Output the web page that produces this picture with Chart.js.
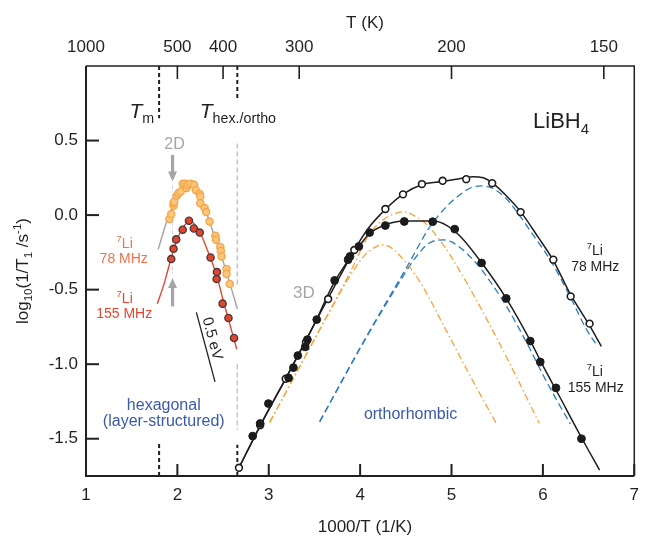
<!DOCTYPE html>
<html>
<head>
<meta charset="utf-8">
<script src="https://cdn.jsdelivr.net/npm/chart.js@4.4.1/dist/chart.umd.min.js"></script>
<style>
html, body { margin: 0; padding: 0; background: #fff; }
</style>
</head>
<body>
<canvas id="chart" width="648" height="537"></canvas>
<script>
// axes
const bottomTicks = [1, 2, 3, 4, 5, 6, 7];
const tempTicks = [1000, 500, 400, 300, 200, 150]; // T (K) on the top axis
const yTicks = [-1.5, -1.0, -0.5, 0.0, 0.5];

// hexagonal phase, 7Li 78 MHz (orange) and 155 MHz (red)
const hex78X = [1.912, 1.933, 1.958, 1.958, 1.966, 1.994, 2.012, 2.036, 2.058, 2.084, 2.101, 2.112, 2.144, 2.183, 2.202, 2.245, 2.251, 2.251, 2.298, 2.315, 2.352, 2.416, 2.423, 2.470, 2.476, 2.484, 2.538, 2.538, 2.573];
const hex78Y = [-0.027, 0.007, 0.062, 0.080, 0.091, 0.129, 0.147, 0.158, 0.210, 0.210, 0.181, 0.203, 0.210, 0.203, 0.169, 0.141, 0.125, 0.080, 0.047, 0.020, -0.043, -0.139, -0.165, -0.214, -0.241, -0.277, -0.362, -0.395, -0.462];
const hex155X = [1.933, 1.958, 1.987, 2.058, 2.127, 2.180, 2.245, 2.363, 2.433, 2.430, 2.495, 2.559, 2.620];
const hex155Y = [-0.295, -0.226, -0.163, -0.098, -0.038, -0.090, -0.117, -0.284, -0.382, -0.429, -0.594, -0.690, -0.824];
const hexFit78X = [1.79, 1.88, 1.95, 2.0, 2.05, 2.1, 2.15, 2.2, 2.25, 2.3, 2.35, 2.4, 2.45, 2.5, 2.55, 2.6, 2.656];
const hexFit78Y = [-0.23, -0.05, 0.06, 0.13, 0.18, 0.205, 0.21, 0.185, 0.13, 0.05, -0.04, -0.13, -0.22, -0.31, -0.41, -0.51, -0.63];
const hexFit155X = [1.78, 1.85, 1.9, 1.95, 2.0, 2.05, 2.1, 2.15, 2.2, 2.25, 2.3, 2.35, 2.4, 2.45, 2.5, 2.55, 2.6, 2.65];
const hexFit155Y = [-0.595, -0.47, -0.36, -0.25, -0.16, -0.095, -0.055, -0.045, -0.07, -0.12, -0.19, -0.27, -0.35, -0.45, -0.57, -0.68, -0.79, -0.90];

// orthorhombic phase, 7Li 78 MHz (open) and 155 MHz (filled)
const ortho78X = [2.674, 2.906, 3.185, 3.407, 3.650, 3.936, 4.276, 4.469, 4.676, 4.903, 5.161, 5.445, 5.756, 6.114, 6.304, 6.511];
const ortho78Y = [-1.695, -1.409, -1.098, -0.853, -0.563, -0.234, 0.041, 0.139, 0.208, 0.230, 0.241, 0.214, 0.020, -0.299, -0.545, -0.728];
const ortho155X = [2.824, 2.906, 2.996, 3.217, 3.270, 3.318, 3.399, 3.423, 3.525, 3.721, 3.868, 3.889, 3.986, 4.104, 4.276, 4.483, 4.794, 5.035, 5.329, 5.599, 5.862, 5.971, 6.143, 6.422];
const ortho155Y = [-1.482, -1.398, -1.264, -1.092, -1.023, -0.942, -0.884, -0.835, -0.701, -0.438, -0.299, -0.277, -0.210, -0.117, -0.070, -0.043, -0.044, -0.094, -0.321, -0.559, -0.845, -0.985, -1.159, -1.500];
const fit78X = [2.67, 2.9, 3.2, 3.5, 3.7, 3.85, 3.95, 4.1, 4.28, 4.47, 4.68, 4.9, 5.05, 5.23, 5.35, 5.45, 5.6, 5.76, 5.95, 6.11, 6.3, 6.51, 6.64];
const fit78Y = [-1.70, -1.42, -1.08, -0.73, -0.50, -0.33, -0.22, -0.08, 0.04, 0.14, 0.205, 0.225, 0.24, 0.258, 0.25, 0.215, 0.13, 0.02, -0.15, -0.30, -0.53, -0.74, -0.88];
const fit155X = [2.67, 2.9, 3.2, 3.5, 3.7, 3.85, 4.0, 4.1, 4.28, 4.48, 4.8, 4.95, 5.1, 5.33, 5.6, 5.86, 6.0, 6.15, 6.42, 6.62];
const fit155Y = [-1.70, -1.42, -1.08, -0.73, -0.47, -0.32, -0.20, -0.125, -0.065, -0.04, -0.04, -0.07, -0.145, -0.32, -0.56, -0.84, -1.01, -1.18, -1.49, -1.71];

// components: 3D diffusion (orange dash-dot), orthorhombic (blue dashed)
const comp3dHiX = [3.01, 3.3, 3.6, 3.8, 3.95, 4.05, 4.15, 4.28, 4.38, 4.48, 4.58, 4.695, 4.909, 5.178, 5.446, 5.714, 5.96];
const comp3dHiY = [-1.39, -1.06, -0.72, -0.49, -0.31, -0.18, -0.09, -0.02, 0.01, 0.022, 0.0, -0.045, -0.199, -0.467, -0.768, -1.089, -1.397];
const comp3dLoX = [3.01, 3.3, 3.6, 3.8, 3.95, 4.05, 4.15, 4.244, 4.33, 4.426, 4.641, 4.909, 5.178, 5.489];
const comp3dLoY = [-1.39, -1.06, -0.72, -0.50, -0.35, -0.27, -0.22, -0.199, -0.215, -0.266, -0.434, -0.735, -1.049, -1.397];
const compOrHiX = [3.557, 4.05, 4.515, 4.766, 4.95, 5.1, 5.2, 5.32, 5.45, 5.6, 5.73, 5.9, 6.09, 6.3, 6.48, 6.6];
const compOrHiY = [-1.386, -0.835, -0.344, -0.076, 0.06, 0.14, 0.18, 0.196, 0.18, 0.11, 0.01, -0.14, -0.31, -0.55, -0.77, -0.88];
const compOrLoX = [3.557, 4.05, 4.44, 4.6, 4.75, 4.909, 5.0, 5.123, 5.3, 5.45, 5.6, 5.86, 6.0, 6.15, 6.30];
const compOrLoY = [-1.386, -0.84, -0.44, -0.29, -0.19, -0.166, -0.18, -0.233, -0.344, -0.47, -0.61, -0.90, -1.07, -1.24, -1.40];

// phase transitions (1000/T)
const T_MELT = 1.8;
const T_HEX = 2.656;

const FONT = '"Liberation Sans", Arial, Helvetica, sans-serif';
const INK = '#231f20';
const GREY = '#a5a5a5';
const BLUE_TXT = '#3a5aa8';

function pts(xs, ys) {
	return xs.map((x, i) => ({ x: x, y: ys[i] }));
}

function lineSet(xs, ys, color, width, dash, order) {
	return {
		data: pts(xs, ys),
		showLine: true,
		borderColor: color,
		borderWidth: width,
		borderDash: dash,
		pointRadius: 0,
		cubicInterpolationMode: 'monotone',
		fill: false,
		order: order,
		xAxisID: 'x',
		yAxisID: 'y',
	};
}

function pointSet(xs, ys, fill, edge, r, bw, order) {
	return {
		data: pts(xs, ys),
		showLine: false,
		backgroundColor: fill,
		borderColor: edge,
		pointRadius: r,
		pointBorderWidth: bw,
		order: order,
		xAxisID: 'x',
		yAxisID: 'y',
	};
}

// text with sub/superscripts, y = baseline
function richText(ctx, parts, x, y, size, color, align) {
	const specs = parts.map((p) => {
		const kind = p[1] || '';
		const small = kind === 'sup' || kind === 'sub';
		const sz = small ? size * 0.68 : size;
		const font = (kind === 'it' ? 'italic ' : '') + sz + 'px ' + FONT;
		ctx.font = font;
		return { t: p[0], kind: kind, font: font, w: ctx.measureText(p[0]).width };
	});
	const total = specs.reduce((a, s) => a + s.w, 0);
	let cx = align === 'center' ? x - total / 2 : align === 'right' ? x - total : x;
	ctx.fillStyle = color;
	ctx.textAlign = 'left';
	ctx.textBaseline = 'alphabetic';
	specs.forEach((s) => {
		ctx.font = s.font;
		const dy = s.kind === 'sup' ? -size * 0.42 : s.kind === 'sub' ? size * 0.26 : 0;
		ctx.fillText(s.t, cx, y + dy);
		cx += s.w;
	});
}

const decorations = {
	id: 'decorations',
	beforeDatasetsDraw(chart) {
		const ctx = chart.ctx;
		const sx = chart.scales.x, sy = chart.scales.y;
		const vline = (x, y0, y1, color, width, dash) => {
			ctx.save();
			ctx.strokeStyle = color;
			ctx.lineWidth = width;
			ctx.setLineDash(dash);
			ctx.beginPath();
			ctx.moveTo(sx.getPixelForValue(x), sy.getPixelForValue(y0));
			ctx.lineTo(sx.getPixelForValue(x), sy.getPixelForValue(y1));
			ctx.stroke();
			ctx.restore();
		};
		// transition markers
		vline(T_MELT, 1.0, 0.65, INK, 2, [4, 3]);
		vline(T_MELT, -1.75, -1.52, INK, 2, [4, 3]);
		vline(T_HEX, 1.0, 0.77, INK, 2, [4, 3]);
		vline(T_HEX, -1.75, -1.54, INK, 2, [4, 3]);
		vline(T_HEX, 0.48, -0.47, '#c4c4c4', 1.5, [5, 3]);
		vline(T_HEX, -1.0, -1.44, '#c4c4c4', 1.5, [5, 3]);
		// 2D / peak marker
		vline(1.947, 0.2, -0.4, '#d0d0d0', 1, [4, 2, 1, 2]);
	},
	afterDatasetsDraw(chart) {
		const ctx = chart.ctx;
		const a = chart.chartArea;
		const sx = chart.scales.x, sy = chart.scales.y, st = chart.scales.x2;
		const px = (v) => sx.getPixelForValue(v);
		const py = (v) => sy.getPixelForValue(v);
		ctx.save();

		// frame
		ctx.strokeStyle = INK;
		ctx.lineWidth = 2;
		ctx.beginPath();
		ctx.moveTo(a.left, a.top);
		ctx.lineTo(a.left, a.bottom);
		ctx.lineTo(a.right, a.bottom);
		ctx.stroke();
		ctx.lineWidth = 1.5;
		ctx.beginPath();
		ctx.moveTo(a.left, a.top);
		ctx.lineTo(a.right, a.top);
		ctx.lineTo(a.right, a.bottom);
		ctx.stroke();

		// inward tick marks
		ctx.lineWidth = 2;
		sx.ticks.forEach((t) => {
			const x = sx.getPixelForValue(t.value);
			ctx.beginPath(); ctx.moveTo(x, a.bottom); ctx.lineTo(x, a.bottom - 12); ctx.stroke();
		});
		sy.ticks.forEach((t) => {
			const y = sy.getPixelForValue(t.value);
			ctx.beginPath(); ctx.moveTo(a.left, y); ctx.lineTo(a.left + 13, y); ctx.stroke();
		});
		ctx.lineWidth = 1.6;
		st.ticks.forEach((t) => {
			const x = st.getPixelForValue(t.value);
			ctx.beginPath(); ctx.moveTo(x, a.top); ctx.lineTo(x, a.top + 13); ctx.stroke();
		});

		// grey arrows at the 2D maximum
		const arrow = (x, yFrom, yTo) => {
			const X = px(x), Y0 = py(yFrom), Y1 = py(yTo);
			const dir = Y1 > Y0 ? 1 : -1;
			ctx.fillStyle = GREY;
			ctx.fillRect(X - 1.6, Math.min(Y0, Y1 - dir * 9), 3.2, Math.abs(Y1 - dir * 9 - Y0));
			ctx.beginPath();
			ctx.moveTo(X - 4.5, Y1 - dir * 10);
			ctx.lineTo(X + 4.5, Y1 - dir * 10);
			ctx.lineTo(X, Y1);
			ctx.closePath();
			ctx.fill();
		};
		arrow(1.947, 0.404, 0.225);
		arrow(1.947, -0.612, -0.422);

		// 0.5 eV slope guide
		ctx.strokeStyle = INK;
		ctx.lineWidth = 1.3;
		ctx.beginPath();
		ctx.moveTo(px(2.208), py(-0.652));
		ctx.lineTo(px(2.412), py(-1.119));
		ctx.stroke();
		ctx.save();
		ctx.translate(px(2.379), py(-0.828));
		ctx.rotate(Math.atan2(py(-1.119) - py(-0.652), px(2.412) - px(2.208)));
		ctx.font = '15px ' + FONT;
		ctx.fillStyle = INK;
		ctx.textAlign = 'center';
		ctx.textBaseline = 'middle';
		ctx.fillText('0.5 eV', 0, 0);
		ctx.restore();

		// labels inside the plot
		richText(ctx, [['T', 'it'], ['m', 'sub']], px(1.475), py(0.652), 21, INK, 'left');
		richText(ctx, [['T', 'it'], ['hex./ortho', 'sub']], px(2.245), py(0.652), 21, INK, 'left');
		richText(ctx, [['2D']], px(1.969), py(0.444), 16, GREY, 'center');
		richText(ctx, [['3D']], px(3.385), py(-0.557), 17, GREY, 'center');
		richText(ctx, [['LiBH'], ['4', 'sub']], px(5.892), py(0.584), 22, INK, 'left');
		richText(ctx, [['7', 'sup'], ['Li']], px(1.423), py(-0.219), 14, '#f2704f', 'center');
		richText(ctx, [['78 MHz']], px(1.413), py(-0.323), 14, '#f2704f', 'center');
		richText(ctx, [['7', 'sup'], ['Li']], px(1.423), py(-0.587), 14, '#e8432e', 'center');
		richText(ctx, [['155 MHz']], px(1.418), py(-0.688), 14, '#e8432e', 'center');
		richText(ctx, [['7', 'sup'], ['Li']], px(6.568), py(-0.266), 14, INK, 'center');
		richText(ctx, [['78 MHz']], px(6.573), py(-0.378), 14, INK, 'center');
		richText(ctx, [['7', 'sup'], ['Li']], px(6.568), py(-1.081), 14, INK, 'center');
		richText(ctx, [['155 MHz']], px(6.578), py(-1.188), 14, INK, 'center');
		richText(ctx, [['hexagonal']], px(1.851), py(-1.304), 16, BLUE_TXT, 'center');
		richText(ctx, [['(layer-structured)']], px(1.851), py(-1.415), 16, BLUE_TXT, 'center');
		richText(ctx, [['orthorhombic']], px(4.552), py(-1.366), 16, BLUE_TXT, 'center');

		// axis titles
		const midX = (a.left + a.right) / 2 + 0;
		richText(ctx, [['1000/T (1/K)']], 365, a.bottom + 56, 17, INK, 'center');
		richText(ctx, [['T (K)']], 365, a.top - 38, 17, INK, 'center');
		ctx.save();
		ctx.translate(28, (a.top + a.bottom) / 2);
		ctx.rotate(-Math.PI / 2);
		richText(ctx, [['log'], ['10', 'sub'], ['(1/T'], ['1', 'sub'], [' /s'], ['-1', 'sup'], [')']], 0, 0, 17, INK, 'center');
		ctx.restore();

		ctx.restore();
	},
};

const tickFont = { family: FONT, size: 17 };

new Chart(document.getElementById('chart'), {
	type: 'scatter',
	data: {
		datasets: [
			lineSet(comp3dHiX, comp3dHiY, '#f6a43a', 1.3, [7, 3, 1.5, 3], 5),
			lineSet(comp3dLoX, comp3dLoY, '#f6a43a', 1.3, [7, 3, 1.5, 3], 5),
			lineSet(compOrHiX, compOrHiY, '#2b7bbf', 1.3, [7, 4], 5),
			lineSet(compOrLoX, compOrLoY, '#2b7bbf', 1.3, [7, 4], 5),
			lineSet(fit78X, fit78Y, '#1e1e1e', 1.5, [], 4),
			lineSet(fit155X, fit155Y, '#1e1e1e', 1.5, [], 4),
			lineSet(hexFit78X, hexFit78Y, '#a3a3a3', 1.4, [], 4),
			lineSet(hexFit155X, hexFit155Y, '#e8432e', 1.4, [], 4),
			pointSet(hex78X, hex78Y, '#fbc57a', '#f3a548', 3.6, 1.3, 2),
			pointSet(hex155X, hex155Y, '#e2452f', '#4a3a38', 3.6, 1.4, 1),
			pointSet(ortho78X, ortho78Y, '#ffffff', '#1b1b1b', 3.4, 1.6, 1),
			pointSet(ortho155X, ortho155Y, '#1b1b1b', '#1b1b1b', 3.9, 1, 0),
		],
	},
	options: {
		responsive: false,
		animation: false,
		events: [],
		layout: { padding: { left: 0, right: 4, top: 0, bottom: 0 } },
		plugins: { legend: { display: false }, tooltip: { enabled: false } },
		scales: {
			x: {
				type: 'linear',
				position: 'bottom',
				min: 1,
				max: 7,
				afterBuildTicks: (s) => { s.ticks = bottomTicks.map((v) => ({ value: v })); },
				afterFit: (s) => { s.height = 61; },
				ticks: { font: tickFont, color: INK, padding: 9, maxRotation: 0, autoSkip: false, callback: (v) => String(v) },
				grid: { display: false, drawTicks: false },
				border: { display: false },
			},
			x2: {
				type: 'linear',
				position: 'top',
				min: 1,
				max: 7,
				afterBuildTicks: (s) => { s.ticks = tempTicks.map((t) => ({ value: 1000 / t })); },
				afterFit: (s) => { s.height = 66; },
				ticks: { font: tickFont, color: INK, padding: 8, maxRotation: 0, autoSkip: false, callback: (v) => String(Math.round(1000 / v)) },
				grid: { display: false, drawTicks: false },
				border: { display: false },
			},
			y: {
				type: 'linear',
				min: -1.75,
				max: 1.0,
				afterBuildTicks: (s) => { s.ticks = yTicks.map((v) => ({ value: v })); },
				afterFit: (s) => { s.width = 86; },
				ticks: { font: tickFont, color: INK, padding: 8, autoSkip: false, callback: (v) => v.toFixed(1) },
				grid: { display: false, drawTicks: false },
				border: { display: false },
			},
		},
	},
	plugins: [decorations],
});
</script>
</body>
</html>
